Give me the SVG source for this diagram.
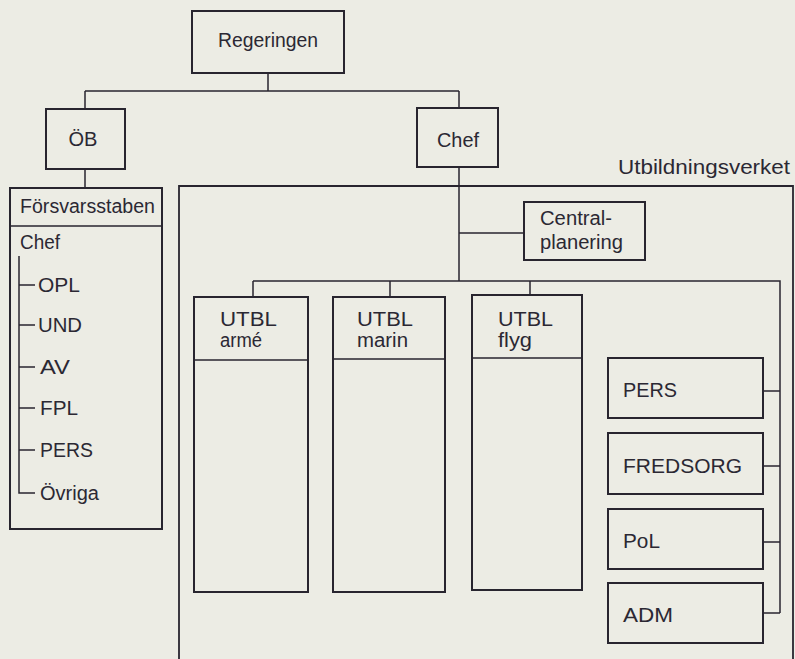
<svg xmlns="http://www.w3.org/2000/svg" width="795" height="659" viewBox="0 0 795 659">
<style>
.bg{fill:#ecece4}
.box{fill:none;stroke:#28252f;stroke-width:2}
.frame{fill:none;stroke:#28252f;stroke-width:1.8}
.ln{fill:none;stroke:#28252f;stroke-width:1.5}
text{font-family:"Liberation Sans",Arial,Helvetica,sans-serif;font-size:20px;fill:#2b2833}
.c{text-anchor:middle}
</style>
<rect class="bg" x="0" y="0" width="795" height="659"/>

<g id="connectors">
<path class="ln" d="M268,73 V91 M85,91 H459 M85,91 V109 M459,91 V108"/>
<path class="ln" d="M85,169 V188"/>
<path class="ln" d="M459,167 V281 M459,233 H524"/>
<path class="ln" d="M253,281 H780 V613 M253,281 V297 M390,281 V297 M530,281 V295"/>
<path class="ln" d="M763,391 H780 M763,466 H780 M763,542 H780 M763,613 H780"/>
</g>

<g id="regeringen">
<rect class="box" x="192" y="11" width="152" height="62"/>
<text x="268" y="47" class="c" textLength="100" lengthAdjust="spacingAndGlyphs">Regeringen</text>
</g>

<g id="ob">
<rect class="box" x="46" y="109" width="79" height="60"/>
<text x="83" y="146" class="c" textLength="29" lengthAdjust="spacingAndGlyphs">ÖB</text>
</g>

<g id="forsvarsstaben">
<rect class="box" x="10" y="188" width="152" height="341"/>
<line class="ln" x1="10" y1="226" x2="162" y2="226"/>
<text x="20" y="213" textLength="135" lengthAdjust="spacingAndGlyphs">Försvarsstaben</text>
<text x="20" y="249" textLength="40" lengthAdjust="spacingAndGlyphs">Chef</text>
<path class="ln" d="M19,256 V493 H35 M19,285 H35 M19,325 H35 M19,367 H35 M19,408 H35 M19,450 H35"/>
<text x="38" y="292" textLength="42" lengthAdjust="spacingAndGlyphs">OPL</text>
<text x="38" y="332" textLength="44" lengthAdjust="spacingAndGlyphs">UND</text>
<text x="40" y="374" textLength="30" lengthAdjust="spacingAndGlyphs">AV</text>
<text x="40" y="415" textLength="38" lengthAdjust="spacingAndGlyphs">FPL</text>
<text x="40" y="457" textLength="53" lengthAdjust="spacingAndGlyphs">PERS</text>
<text x="40" y="500" textLength="59" lengthAdjust="spacingAndGlyphs">Övriga</text>
</g>

<g id="chef">
<rect class="box" x="417" y="108" width="81" height="59"/>
<text x="458" y="147" class="c" textLength="42" lengthAdjust="spacingAndGlyphs">Chef</text>
</g>

<g id="utbildningsverket">
<path class="frame" d="M179,659 V186 H793 V659"/>
<text x="618" y="174" textLength="172" lengthAdjust="spacingAndGlyphs">Utbildningsverket</text>
</g>

<g id="centralplanering">
<rect class="box" x="524" y="202" width="121" height="58"/>
<text x="540" y="225" textLength="72" lengthAdjust="spacingAndGlyphs">Central-</text>
<text x="540" y="249" textLength="83" lengthAdjust="spacingAndGlyphs">planering</text>
</g>

<g id="utbl-arme">
<rect class="box" x="194" y="297" width="114" height="295"/>
<line class="ln" x1="194" y1="360" x2="308" y2="360"/>
<text x="220" y="326" textLength="57" lengthAdjust="spacingAndGlyphs">UTBL</text>
<text x="220" y="347" textLength="42" lengthAdjust="spacingAndGlyphs">armé</text>
</g>

<g id="utbl-marin">
<rect class="box" x="333" y="297" width="112" height="295"/>
<line class="ln" x1="333" y1="359" x2="445" y2="359"/>
<text x="357" y="326" textLength="56" lengthAdjust="spacingAndGlyphs">UTBL</text>
<text x="357" y="347" textLength="51" lengthAdjust="spacingAndGlyphs">marin</text>
</g>

<g id="utbl-flyg">
<rect class="box" x="472" y="295" width="110" height="295"/>
<line class="ln" x1="472" y1="358" x2="582" y2="358"/>
<text x="498" y="326" textLength="55" lengthAdjust="spacingAndGlyphs">UTBL</text>
<text x="498" y="347" textLength="34" lengthAdjust="spacingAndGlyphs">flyg</text>
</g>

<g id="pers">
<rect class="box" x="608" y="358" width="155" height="60"/>
<text x="623" y="397" textLength="54" lengthAdjust="spacingAndGlyphs">PERS</text>
</g>

<g id="fredsorg">
<rect class="box" x="608" y="433" width="155" height="61"/>
<text x="623" y="473" textLength="119" lengthAdjust="spacingAndGlyphs">FREDSORG</text>
</g>

<g id="pol">
<rect class="box" x="608" y="509" width="155" height="60"/>
<text x="623" y="548" textLength="37" lengthAdjust="spacingAndGlyphs">PoL</text>
</g>

<g id="adm">
<rect class="box" x="608" y="583" width="155" height="60"/>
<text x="623" y="622" textLength="50" lengthAdjust="spacingAndGlyphs">ADM</text>
</g>
</svg>
